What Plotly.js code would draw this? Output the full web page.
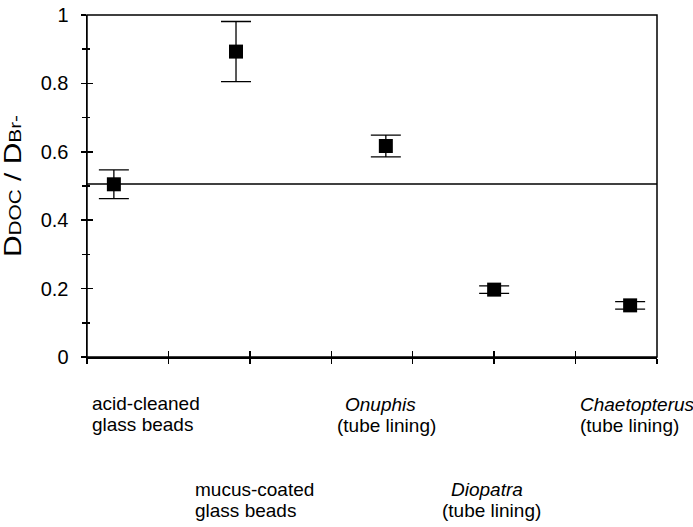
<!DOCTYPE html>
<html>
<head>
<meta charset="utf-8">
<script src="https://cdn.plot.ly/plotly-3.0.1.min.js"></script>
<style>
  html, body { margin: 0; padding: 0; background: #fff; }
  #chart { width: 693px; height: 527px; }
</style>
</head>
<body>
<div id="chart"></div>
<script>
// ---- data ----
const labelLine1 = ['acid-cleaned', 'mucus-coated', 'Onuphis', 'Diopatra', 'Chaetopterus'];
const labelLine2 = ['glass beads', 'glass beads', '(tube lining)', '(tube lining)', '(tube lining)'];
const labelItalic = [false, false, true, true, true];
const xPos = [0.33, 1.83, 3.67, 5.0, 6.67];
const ratio = [0.505, 0.893, 0.617, 0.197, 0.151];
const ratioErr = [0.042, 0.088, 0.032, 0.011, 0.011];
const refValue = 0.506;
const xRange = [0, 7];
const yRange = [0, 1];
const yTickVals = [0, 0.2, 0.4, 0.6, 0.8, 1];
const yTickText = ['0', '0.2', '0.4', '0.6', '0.8', '1'];

// ---- layout geometry (pixels) ----
const W = 693, H = 527;
const M = { l: 87, r: 36, t: 15, b: 170 };
const plotW = W - M.l - M.r, plotH = H - M.t - M.b;
const px2x = px => (px - M.l) / plotW;
const py2y = py => (H - M.b - py) / plotH;
// [left line1, left line2, baseline line1, baseline line2]
const labelGeom = [
  [90, 90, 410, 431],
  [193, 193, 496, 517],
  [343, 335, 411, 432],
  [449, 440, 496, 517],
  [578, 578, 411, 432]
];

const FONT = 'Liberation Sans, Arial, Helvetica, sans-serif';
const LABEL_SIZE = 19;

const annotations = [];
labelLine1.forEach((t, i) => {
  const g = labelGeom[i];
  annotations.push({
    text: labelItalic[i] ? '<i>' + t + '</i>' : t,
    xref: 'paper', yref: 'paper', x: px2x(g[0]), y: py2y(g[2] - 6.5),
    xanchor: 'left', yanchor: 'middle', showarrow: false,
    font: { family: FONT, size: LABEL_SIZE, color: '#000' }
  });
  annotations.push({
    text: labelLine2[i],
    xref: 'paper', yref: 'paper', x: px2x(g[1]), y: py2y(g[3] - 6.5),
    xanchor: 'left', yanchor: 'middle', showarrow: false,
    font: { family: FONT, size: LABEL_SIZE, color: '#000' }
  });
});

const traces = [
  {
    x: xRange, y: [refValue, refValue],
    xaxis: 'x2', yaxis: 'y2',
    mode: 'lines', line: { color: '#000', width: 1.5 },
    hoverinfo: 'skip', showlegend: false
  },
  {
    x: xPos, y: ratio,
    mode: 'markers', type: 'scatter',
    marker: { symbol: 'square', size: 14, color: '#000' },
    error_y: { type: 'data', array: ratioErr, visible: true, color: '#000', thickness: 1.3, width: 15 },
    showlegend: false
  }
];

const layout = {
  width: W, height: H,
  margin: M,
  paper_bgcolor: '#fff', plot_bgcolor: '#fff',
  showlegend: false,
  font: { family: FONT, color: '#000' },
  xaxis: {
    range: xRange, showgrid: false, zeroline: false,
    showline: true, linecolor: '#000', linewidth: 1.5,
    ticks: 'outside', ticklen: 5, tickwidth: 1.5, tickcolor: '#000',
    tickmode: 'linear', tick0: 0, dtick: 1,
    showticklabels: false
  },
  yaxis: {
    range: yRange, showgrid: false, zeroline: false,
    showline: true, linecolor: '#000', linewidth: 1.5,
    ticks: 'outside', ticklen: 5, tickwidth: 1.5, tickcolor: '#000',
    tickmode: 'array', tickvals: yTickVals, ticktext: yTickText,
    minor: { ticks: 'outside', ticklen: 4, tickwidth: 1.5, tickcolor: '#000', tickmode: 'linear', tick0: 0, dtick: 0.1 },
    tickfont: { family: FONT, size: 20, color: '#000' },
    ticklabelstandoff: 8,
    title: {
      text: 'D<span style="font-size:16px">DOC</span> / D<span style="font-size:16px">Br-</span>',
      font: { family: FONT, size: 23, color: '#000' },
      standoff: 14
    }
  },
  xaxis2: {
    overlaying: 'x', anchor: 'y2', range: xRange,
    showgrid: false, zeroline: false, showline: false,
    ticks: 'inside', ticklen: 6, tickwidth: 1.5, tickcolor: '#000',
    tickmode: 'linear', tick0: 0, dtick: 1, showticklabels: false
  },
  yaxis2: {
    overlaying: 'y', anchor: 'x2', range: yRange,
    showgrid: false, zeroline: false, showline: false,
    ticks: 'inside', ticklen: 6, tickwidth: 1.5, tickcolor: '#000',
    tickmode: 'array', tickvals: yTickVals, showticklabels: false,
    minor: { ticks: 'inside', ticklen: 3, tickwidth: 1.5, tickcolor: '#000', tickmode: 'linear', tick0: 0, dtick: 0.1 }
  },
  shapes: [
    { type: 'rect', xref: 'paper', yref: 'paper', x0: 0, x1: 1, y0: 0, y1: 1,
      line: { color: '#000', width: 1.5 }, fillcolor: 'rgba(0,0,0,0)', layer: 'above' }
  ],
  annotations: annotations
};

Plotly.newPlot('chart', traces, layout, { staticPlot: true, displayModeBar: false }).then(gd => {
  // the reference's axis title is drawn with wide, stretched glyphs
  const t = gd.querySelector('.ytitle');
  if (t) {
    const x = parseFloat(t.getAttribute('x')), y = parseFloat(t.getAttribute('y'));
    const tr = t.getAttribute('transform') || '';
    t.setAttribute('transform', tr + ` translate(${x},${y}) scale(1.3,1) translate(${-x},${-y})`);
  }
});
</script>
</body>
</html>
